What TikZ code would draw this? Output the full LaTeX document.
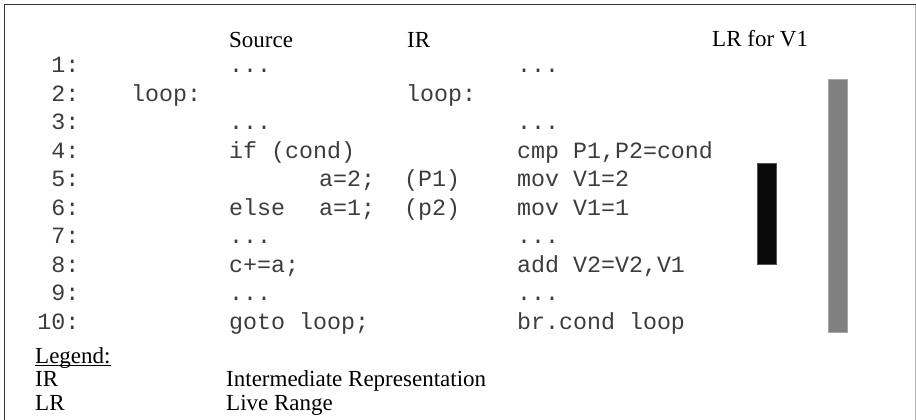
\documentclass[tikz,border=0pt]{standalone}
\usepackage{fontspec}
\setmainfont{Liberation Serif}
\setmonofont{Liberation Mono}
\definecolor{lrGray}{HTML}{808080}
\definecolor{lrBlack}{HTML}{0A0A0A}
\definecolor{codeInk}{HTML}{3C3C3C}

\begin{document}
\begin{tikzpicture}[x=1pt, y=-1pt,
  hdr/.style={anchor=base west, inner sep=0pt, font=\fontsize{23}{27}\selectfont},
  code/.style={anchor=base west, inner sep=0pt, text=codeInk, font=\ttfamily\fontsize{23.3}{28}\selectfont},
  lineno/.style={code, anchor=base east},
  lrbar/.style={draw=#1!70, fill=#1, minimum width=19pt, inner sep=0pt}]
  \useasboundingbox (0,0) rectangle (916,420);
  % frame
  \draw[line width=1.6pt, black!80] (4.5,420) -- (4.5,4.5) -- (916,4.5);
  \draw[line width=1pt, black!30] (915.5,5) -- (915.5,420);
  % headers
  \node[hdr] (hsrc) at (229,48) {Source};
  \node[hdr] (hir) at (407,48) {IR};
  \node[hdr] (hlr) at (712,47) {LR for V1};
  % line numbers
  \foreach \n in {1,...,10}
    \node[lineno] (ln\n) at (79.5,{73+28.45*(\n-1)}) {\n:};
  % source column
  \node[code] (s1) at (229,73) {...};
  \node[code] (slbl) at (131,101.5) {loop:};
  \node[code] (s3) at (229,129.9) {...};
  \node[code] (s4) at (229,158.4) {if (cond)};
  \node[code] (s5) at (319,186.8) {a=2;};
  \node[code] (s6a) at (229,215.3) {else};
  \node[code] (s6b) at (319,215.3) {a=1;};
  \node[code] (s7) at (229,243.7) {...};
  \node[code] (s8) at (229,272.2) {c+=a;};
  \node[code] (s9) at (229,300.6) {...};
  \node[code] (s10) at (229,329) {goto loop;};
  % predicates
  \node[code] (p1) at (404,186.8) {(P1)};
  \node[code] (p2) at (404,215.3) {(p2)};
  % IR column
  \node[code] (i1) at (517,73) {...};
  \node[code] (ilbl) at (406,101.5) {loop:};
  \node[code] (i3) at (517,129.9) {...};
  \node[code] (i4) at (517,158.4) {cmp P1,P2=cond};
  \node[code] (i5) at (517,186.8) {mov V1=2};
  \node[code] (i6) at (517,215.3) {mov V1=1};
  \node[code] (i7) at (517,243.7) {...};
  \node[code] (i8) at (517,272.2) {add V2=V2,V1};
  \node[code] (i9) at (517,300.6) {...};
  \node[code] (i10) at (517,329) {br.cond loop};
  % live ranges
  \node[lrbar=lrBlack, minimum height=101pt] (lrv1) at (766.5,213.5) {};
  \node[lrbar=lrGray, minimum height=253pt] (lrloop) at (837.5,205.5) {};
  % legend
  \node[hdr] (leg) at (35,363) {Legend:};
  \draw[line width=0.8pt] ([yshift=-2.5pt]leg.base west) -- ([yshift=-2.5pt]leg.base east);
  \node[hdr] (kir) at (35,386) {IR};
  \node[hdr] (vir) at (226,386) {Intermediate Representation};
  \node[hdr] (klr) at (35,410) {LR};
  \node[hdr] (vlr) at (226,410) {Live Range};
\end{tikzpicture}
\end{document}
